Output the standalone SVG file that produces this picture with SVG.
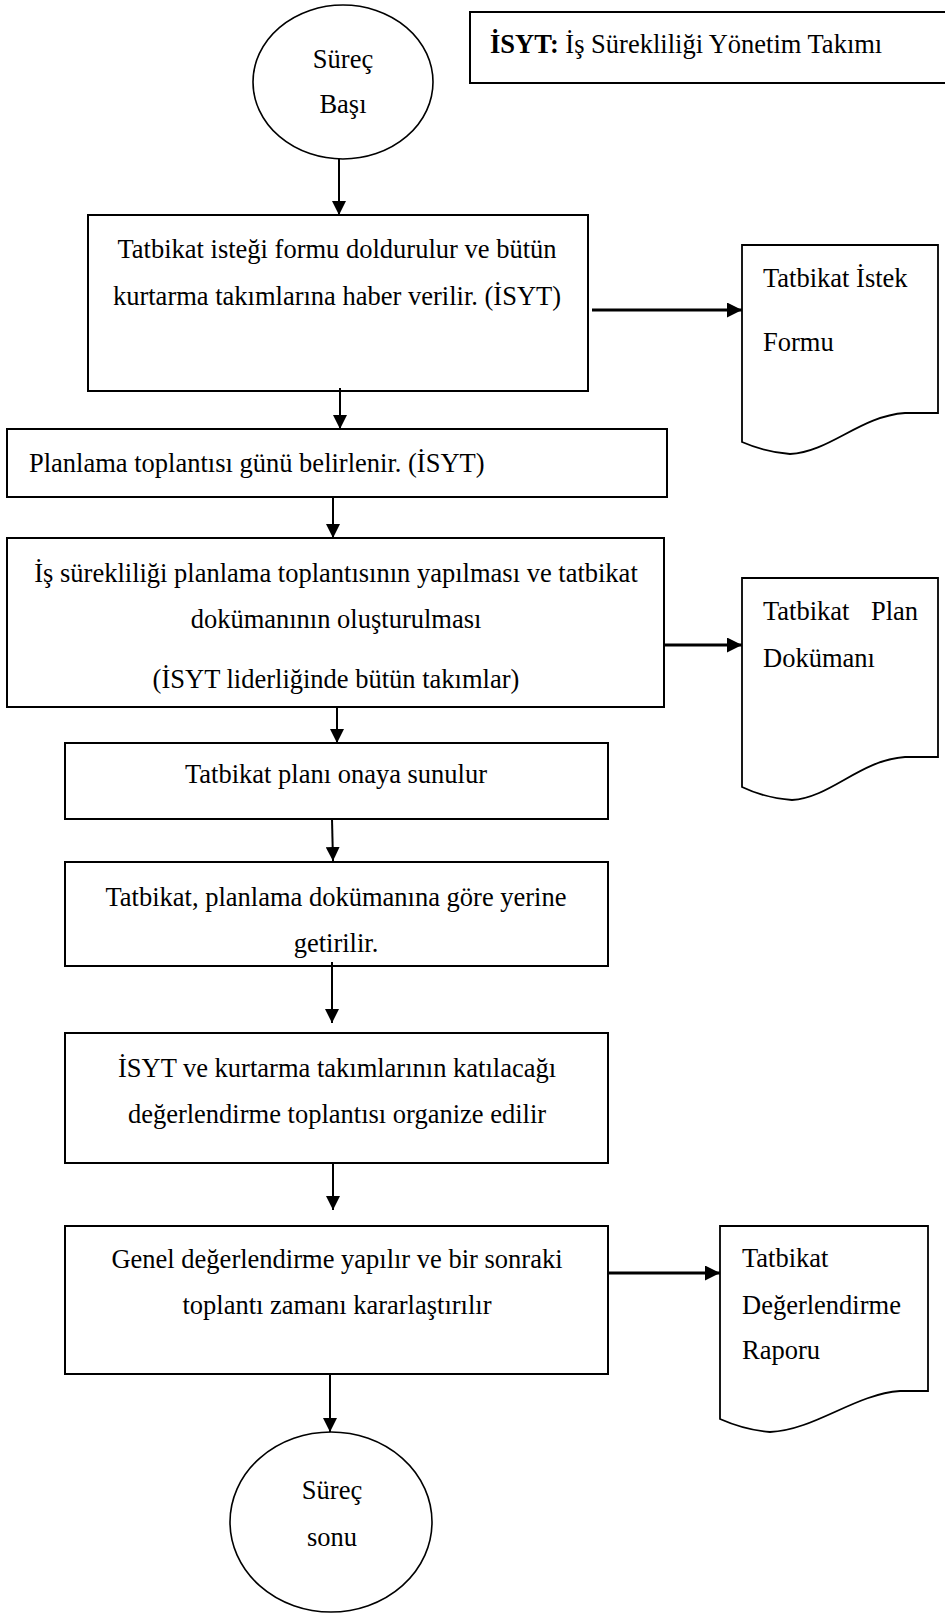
<svg xmlns="http://www.w3.org/2000/svg" width="945" height="1614" viewBox="0 0 945 1614">
<defs>
<style>
.t{font-family:"Liberation Serif","Times New Roman",serif;font-size:26.5px;fill:#000}
.c{text-anchor:middle}
.b{font-weight:bold}
.box{fill:#fff;stroke:#000;stroke-width:2}
.ell{fill:#fff;stroke:#000;stroke-width:1.6}
.doc{fill:#fff;stroke:#000;stroke-width:1.8}
.v{stroke:#000;stroke-width:2;fill:none;marker-end:url(#ah)}
.h{stroke:#000;stroke-width:3;fill:none;marker-end:url(#ah2)}
</style>
<marker id="ah" viewBox="0 0 10 10" refX="10" refY="5" markerUnits="userSpaceOnUse" markerWidth="14" markerHeight="14" orient="auto"><path d="M0,0 L10,5 L0,10 z" fill="#000"/></marker>
<marker id="ah2" viewBox="0 0 10 10" refX="10" refY="5" markerUnits="userSpaceOnUse" markerWidth="15" markerHeight="15" orient="auto"><path d="M0,0 L10,5 L0,10 z" fill="#000"/></marker>
</defs>
<rect width="945" height="1614" fill="#fff"/>

<g id="legend">
<rect class="box" x="470" y="12" width="480" height="71"/>
<text class="t" x="490" y="53"><tspan class="b">İSYT:</tspan> İş Sürekliliği Yönetim Takımı</text>
</g>

<g id="start">
<ellipse class="ell" cx="343" cy="82" rx="90" ry="77"/>
<text class="t c" x="343" y="68">Süreç</text>
<text class="t c" x="343" y="113">Başı</text>
</g>

<g id="step1">
<rect class="box" x="88" y="215" width="500" height="176"/>
<text class="t c" x="337" y="258">Tatbikat isteği formu doldurulur ve bütün</text>
<text class="t c" x="337" y="305">kurtarma takımlarına haber verilir. (İSYT)</text>
</g>

<g id="doc1">
<path class="doc" d="M742,442 V245 H938 V413 H905 C860,416 830,452 790,454 Q765,452 742,442 Z"/>
<text class="t" x="763" y="287">Tatbikat İstek</text>
<text class="t" x="763" y="351">Formu</text>
</g>

<g id="step2">
<rect class="box" x="7" y="429" width="660" height="68"/>
<text class="t" x="29" y="472">Planlama toplantısı günü belirlenir. (İSYT)</text>
</g>

<g id="step3">
<rect class="box" x="7" y="538" width="657" height="169"/>
<text class="t c" x="336" y="582">İş sürekliliği planlama toplantısının yapılması ve tatbikat</text>
<text class="t c" x="336" y="628">dokümanının oluşturulması</text>
<text class="t c" x="336" y="688">(İSYT liderliğinde bütün takımlar)</text>
</g>

<g id="doc2">
<path class="doc" d="M742,787 V578 H938 V757 H905 C860,760 830,798 792,800 Q765,798 742,787 Z"/>
<text class="t" x="763" y="620">Tatbikat</text>
<text class="t" x="871" y="620">Plan</text>
<text class="t" x="763" y="667">Dokümanı</text>
</g>

<g id="step4">
<rect class="box" x="65" y="743" width="543" height="76"/>
<text class="t c" x="336" y="783">Tatbikat planı onaya sunulur</text>
</g>

<g id="step5">
<rect class="box" x="65" y="862" width="543" height="104"/>
<text class="t c" x="336" y="906">Tatbikat, planlama dokümanına göre yerine</text>
<text class="t c" x="336" y="952">getirilir.</text>
</g>

<g id="step6">
<rect class="box" x="65" y="1033" width="543" height="130"/>
<text class="t c" x="337" y="1077">İSYT ve kurtarma takımlarının katılacağı</text>
<text class="t c" x="337" y="1123">değerlendirme toplantısı organize edilir</text>
</g>

<g id="step7">
<rect class="box" x="65" y="1226" width="543" height="148"/>
<text class="t c" x="337" y="1268">Genel değerlendirme yapılır ve bir sonraki</text>
<text class="t c" x="337" y="1314">toplantı zamanı kararlaştırılır</text>
</g>

<g id="doc3">
<path class="doc" d="M720,1419 V1226 H928 V1391 H900 C855,1394 815,1430 770,1432 Q745,1430 720,1419 Z"/>
<text class="t" x="742" y="1267">Tatbikat</text>
<text class="t" x="742" y="1314">Değerlendirme</text>
<text class="t" x="742" y="1359">Raporu</text>
</g>

<g id="end">
<ellipse class="ell" cx="331" cy="1522" rx="101" ry="90"/>
<text class="t c" x="332" y="1499">Süreç</text>
<text class="t c" x="332" y="1546">sonu</text>
</g>

<g id="connectors">
<line class="v" x1="339" y1="159" x2="339" y2="215"/>
<line class="v" x1="340" y1="388" x2="340" y2="429"/>
<line class="v" x1="333" y1="497" x2="333" y2="538"/>
<line class="v" x1="337" y1="707" x2="337" y2="743"/>
<line class="v" x1="332" y1="819" x2="333" y2="861"/>
<line class="v" x1="332" y1="962" x2="332" y2="1023"/>
<line class="v" x1="333" y1="1163" x2="333" y2="1210"/>
<line class="v" x1="330" y1="1374" x2="330" y2="1432"/>
<line class="h" x1="592" y1="310" x2="742" y2="310"/>
<line class="h" x1="664" y1="645" x2="742" y2="645"/>
<line class="h" x1="608" y1="1273" x2="720" y2="1273"/>
</g>
</svg>
